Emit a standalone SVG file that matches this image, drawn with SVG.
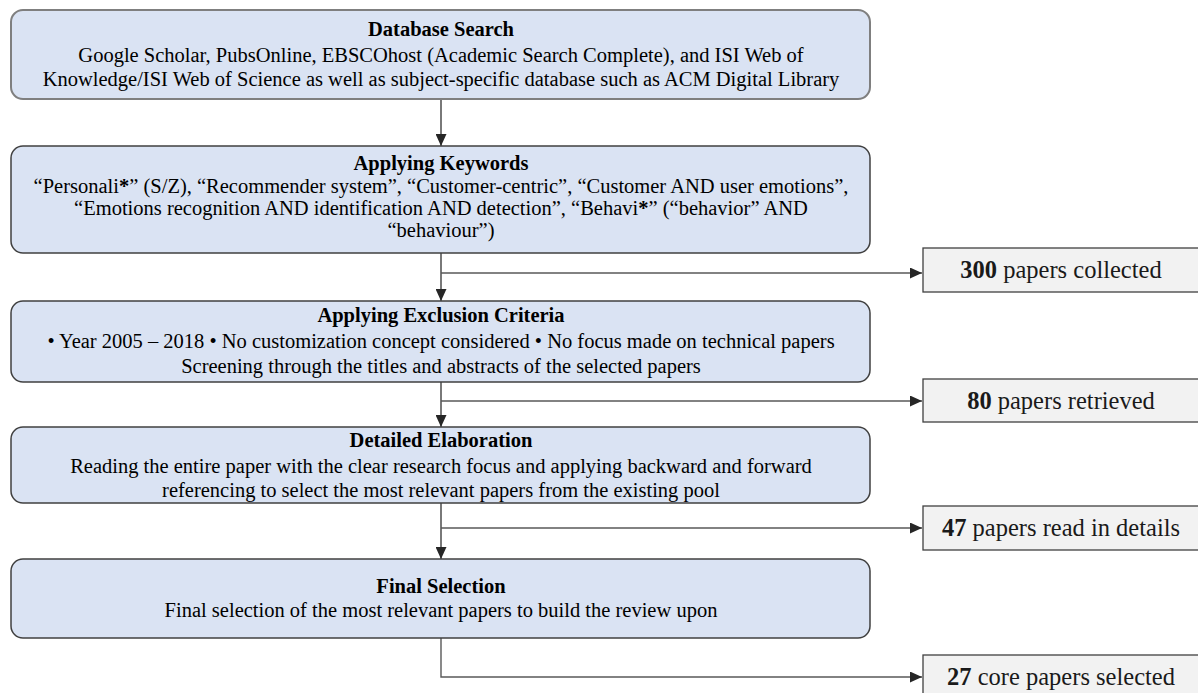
<svg xmlns="http://www.w3.org/2000/svg" width="1198" height="693" viewBox="0 0 1198 693">
<defs>
<marker id="ah" markerUnits="userSpaceOnUse" markerWidth="12" markerHeight="11" refX="12" refY="5.5" orient="auto">
<path d="M0,0 L12,5.5 L0,11 z" fill="#262626"/>
</marker>
<style>
.box{fill:#dae3f3;stroke:#404040;stroke-width:1.5}
.box1{fill:#dae3f3;stroke:#7f7f7f;stroke-width:2}
.side{fill:#f2f2f2;stroke:#404040;stroke-width:1.3}
.t{font-family:"Liberation Serif","Times New Roman",serif;font-size:20.5px;fill:#000;text-anchor:middle}
.b{font-weight:bold}
.s{font-family:"Liberation Serif","Times New Roman",serif;font-size:24.5px;fill:#1a1a1a;text-anchor:middle}
.c{fill:none;stroke:#404040;stroke-width:1.4}
.h{fill:none;stroke:#595959;stroke-width:1.4}
</style>
</defs>
<rect width="1198" height="693" fill="#ffffff"/>
<g id="connectors">
<line class="c" x1="441" y1="99" x2="441" y2="146" marker-end="url(#ah)"/>
<line class="c" x1="441" y1="253" x2="441" y2="301" marker-end="url(#ah)"/>
<line class="h" x1="441" y1="273" x2="922" y2="273" marker-end="url(#ah)"/>
<line class="c" x1="441" y1="382" x2="441" y2="427" marker-end="url(#ah)"/>
<line class="h" x1="441" y1="401" x2="922" y2="401" marker-end="url(#ah)"/>
<line class="c" x1="441" y1="503" x2="441" y2="559" marker-end="url(#ah)"/>
<line class="h" x1="441" y1="528" x2="922" y2="528" marker-end="url(#ah)"/>
<polyline class="h" points="441,638 441,677 922,677" marker-end="url(#ah)"/>
</g>
<g id="database-search">
<rect class="box1" x="11" y="10" width="859" height="89" rx="12"/>
<text class="t b" x="441" y="36">Database Search</text>
<text class="t" x="441" y="62">Google Scholar, PubsOnline, EBSCOhost (Academic Search Complete), and ISI Web of</text>
<text class="t" x="441" y="86">Knowledge/ISI Web of Science as well as subject-specific database such as ACM Digital Library</text>
</g>
<g id="applying-keywords">
<rect class="box" x="11" y="146" width="859" height="107" rx="12"/>
<text class="t b" x="441" y="170">Applying Keywords</text>
<text class="t" x="441" y="193">“Personali<tspan font-weight="bold">*</tspan>” (S/Z), “Recommender system”, “Customer-centric”, “Customer AND user emotions”,</text>
<text class="t" x="441" y="215">“Emotions recognition AND identification AND detection”, “Behavi<tspan font-weight="bold">*</tspan>” (“behavior” AND</text>
<text class="t" x="441" y="237">“behaviour”)</text>
</g>
<g id="exclusion-criteria">
<rect class="box" x="11" y="301" width="859" height="81" rx="12"/>
<text class="t b" x="441" y="322">Applying Exclusion Criteria</text>
<text class="t" x="441" y="348">• Year 2005 – 2018 • No customization concept considered • No focus made on technical papers</text>
<text class="t" x="441" y="373">Screening through the titles and abstracts of the selected papers</text>
</g>
<g id="detailed-elaboration">
<rect class="box" x="11" y="427" width="859" height="76" rx="12"/>
<text class="t b" x="441" y="447">Detailed Elaboration</text>
<text class="t" x="441" y="473">Reading the entire paper with the clear research focus and applying backward and forward</text>
<text class="t" x="441" y="497">referencing to select the most relevant papers from the existing pool</text>
</g>
<g id="final-selection">
<rect class="box" x="11" y="559" width="859" height="79" rx="12"/>
<text class="t b" x="441" y="593">Final Selection</text>
<text class="t" x="441" y="617">Final selection of the most relevant papers to build the review upon</text>
</g>
<g id="collected">
<rect class="side" x="923" y="248" width="280" height="44"/>
<text class="s" x="1061" y="278"><tspan font-weight="bold">300</tspan> papers collected</text>
</g>
<g id="retrieved">
<rect class="side" x="923" y="379" width="280" height="43"/>
<text class="s" x="1061" y="409"><tspan font-weight="bold">80</tspan> papers retrieved</text>
</g>
<g id="read">
<rect class="side" x="923" y="506" width="280" height="44"/>
<text class="s" x="1061" y="536"><tspan font-weight="bold">47</tspan> papers read in details</text>
</g>
<g id="core">
<rect class="side" x="923" y="655" width="280" height="44"/>
<text class="s" x="1061" y="685"><tspan font-weight="bold">27</tspan> core papers selected</text>
</g>
</svg>
